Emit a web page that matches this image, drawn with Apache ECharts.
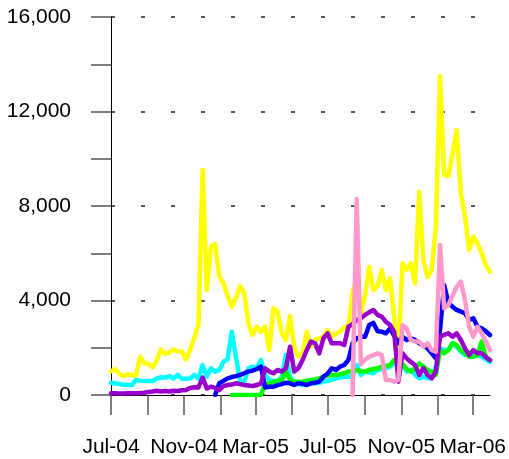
<!DOCTYPE html>
<html>
<head>
<meta charset="utf-8">
<script src="https://cdn.jsdelivr.net/npm/echarts@6/dist/echarts.min.js"></script>
<style>
  html, body { margin: 0; padding: 0; background: #fff; }
  #chart { width: 509px; height: 459px; }
</style>
</head>
<body>
<div id="chart"></div>
<script>
// weekly figures, first week = 1 Jul 2004
const DAY = 24 * 3600 * 1000;
const firstWeek = Date.UTC(2004, 6, 1);
const weekCount = 92;

const yellowVals = [1000, 1100, 900, 800, 880, 850, 820, 1620, 1340, 1310,
  1170, 1480, 1930, 1735, 1800, 1930, 1850, 1835, 1510, 1900,
  2400, 3000, 9525, 4445, 6280, 6390, 5010, 4730, 4200, 3740,
  4100, 4610, 4300, 3030, 2540, 2890, 2680, 2890, 1900, 3670,
  3530, 2610, 2330, 3345, 2045, 1620, 1765, 2680, 2045, 2330,
  2400, 2470, 2750, 2470, 2600, 2680, 2890, 2820, 4300, 5000,
  3460, 4200, 5430, 4445, 4600, 5290, 4445, 4940, 3300, 1765,
  5575, 5300, 5575, 4730, 8600, 5715, 5000, 5290, 7120, 13500,
  9310, 9270, 10200, 11220, 8540, 7550, 6140, 6700, 6420, 6000,
  5500, 5220];

const cyanVals = [520, 500, 470, 430, 423, 423, 635, 600, 590, 590,
  590, 700, 750, 735, 805, 690, 850, 690, 690, 700,
  850, 690, 1270, 775, 1130, 990, 1060, 1410, 1510, 2680,
  1600, 565, 565, 1130, 1200, 1130, 1480, 850, 635, 600,
  565, 775, 1690, 775, 495, 495, 423, 495, 495, 495,
  520, 565, 600, 635, 705, 740, 775, 775, 800, 1270,
  850, 990, 950, 920, 1060, 1100, 1130, 1200, 1340, 1340,
  1270, 990, 1060, 850, 705, 775, 705, 705, 1200, 1975,
  1900, 1900, 2190, 2045, 1835, 1690, 1765, 1690, 1690, 1620,
  1500, 1410];

const purpleVals = [70, 70, 60, 60, 70, 70, 70, 80, 100, 130,
  150, 180, 150, 170, 150, 180, 170, 200, 210, 300,
  325, 320, 735, 280, 350, 300, 210, 380, 420, 440,
  495, 460, 423, 400, 380, 423, 480, 1130, 990, 920,
  1060, 990, 1130, 2045, 990, 1130, 1480, 1900, 2260, 2190,
  1765, 2400, 2610, 2190, 2190, 2190, 2115, 2890, 3000, 3175,
  3250, 3390, 3500, 3600, 3390, 3315, 3100, 2960, 2680, 565,
  1765, 1550, 1400, 1270, 850, 1130, 850, 705, 1000, 2470,
  2550, 2610, 2470, 2610, 2330, 1975, 1690, 1900, 1765, 1765,
  1600, 1480];

// these start later: index of their first week
const blueFrom = 25;
const blueVals = [0, 495, 600, 705, 760, 800, 850, 920, 1000, 1030,
  1100, 1200, 320, 350, 350, 420, 460, 520, 495, 423,
  495, 470, 423, 495, 520, 565, 775, 900, 1130, 1060,
  1200, 1270, 1480, 2190, 2400, 2470, 2470, 2960, 3050, 2700,
  2680, 2610, 2820, 2500, 2200, 2470, 2330, 2400, 2330, 2190,
  2100, 1975, 1765, 1550, 2750, 4650, 3900, 3740, 3600, 3530,
  3460, 3175, 3250, 2890, 2820, 2700, 2540];

const greenFrom = 29;
const greenVals = [0, 0, 0, 0, 0, 0, 0, 0, 450, 495,
  550, 600, 635, 990, 635, 565, 565, 565, 600, 635,
  660, 700, 775, 820, 850, 850, 880, 920, 990, 1000,
  1060, 1000, 990, 1060, 1100, 1130, 1200, 1230, 1270, 1480,
  1410, 1300, 1100, 990, 1130, 1340, 1200, 1060, 990, 850,
  1900, 1765, 1900, 2190, 2115, 1900, 1765, 1620, 1620, 1690,
  2260, 1620, 1480];

const pinkFrom = 58;
const pinkVals = [0, 8300, 1300, 1500, 1620, 1690, 1765, 1690, 635, 635,
  565, 635, 2950, 2820, 2330, 2260, 2260, 2045, 2190, 1900,
  1835, 6350, 3670, 3810, 4200, 4585, 4800, 4020, 2890, 2470,
  2890, 2610, 2260, 1900];

const tickMonths = ['2004-07', '2004-09', '2004-11', '2005-01', '2005-03', '2005-05',
  '2005-07', '2005-09', '2005-11', '2006-01', '2006-03'];
const labelMonths = ['2004-07', '2004-11', '2005-03', '2005-07', '2005-11', '2006-03'];
const monthNames = ['Jan', 'Feb', 'Mar', 'Apr', 'May', 'Jun', 'Jul', 'Aug', 'Sep', 'Oct', 'Nov', 'Dec'];

function monthTs(s) {
  const p = s.split('-');
  return Date.UTC(+p[0], +p[1] - 1, 1);
}
function weekTs(i) {
  return firstWeek + i * 7 * DAY;
}
function toPairs(vals, from) {
  return vals.map((v, i) => [weekTs(from + i), v]);
}
function mkLine(name, color, vals, from) {
  return {
    name: name,
    type: 'line',
    data: toPairs(vals, from),
    showSymbol: false,
    symbol: 'none',
    animation: false,
    lineStyle: { color: color, width: 4.5, join: 'round', cap: 'round' },
    itemStyle: { color: color }
  };
}

const chart = echarts.init(document.getElementById('chart'));
const option = {
  backgroundColor: '#fff',
  animation: false,
  grid: { left: 111, right: 18, top: 17, bottom: 64 },
  xAxis: {
    type: 'value',
    min: weekTs(0),
    max: weekTs(weekCount - 1),
    axisLine: { show: true, onZero: false, lineStyle: { color: '#000', width: 1 } },
    axisTick: {
      show: true,
      length: 20,
      customValues: tickMonths.map(monthTs),
      lineStyle: { color: '#555', width: 1.5 }
    },
    axisLabel: {
      customValues: labelMonths.map(monthTs),
      margin: 42,
      fontSize: 21,
      color: '#000',
      fontFamily: 'Liberation Sans',
      formatter: function (v) {
        const d = new Date(v);
        return monthNames[d.getUTCMonth()] + '-' + String(d.getUTCFullYear() % 100).padStart(2, '0');
      }
    },
    splitLine: { show: false }
  },
  yAxis: {
    type: 'value',
    min: 0,
    max: 16000,
    interval: 4000,
    axisLine: { show: true, lineStyle: { color: '#000', width: 1 } },
    axisTick: { show: true, length: 20, lineStyle: { color: '#555', width: 1.5 } },
    minorTick: { show: true, splitNumber: 2, length: 20, lineStyle: { color: '#555', width: 1.5 } },
    axisLabel: {
      margin: 40,
      fontSize: 21,
      color: '#000',
      fontFamily: 'Liberation Sans',
      formatter: function (v) { return v.toLocaleString('en-US'); }
    },
    splitLine: { show: true, lineStyle: { color: '#222', width: 1.5, type: [4, 26] } }
  },
  series: [
    mkLine('yellow', '#ffff00', yellowVals, 0),
    mkLine('cyan', '#00ffff', cyanVals, 0),
    mkLine('green', '#00ff00', greenVals, greenFrom),
    mkLine('blue', '#0000ff', blueVals, blueFrom),
    mkLine('purple', '#9900cc', purpleVals, 0),
    mkLine('pink', '#ff99cc', pinkVals, pinkFrom)
  ]
};
chart.setOption(option);
</script>
</body>
</html>
